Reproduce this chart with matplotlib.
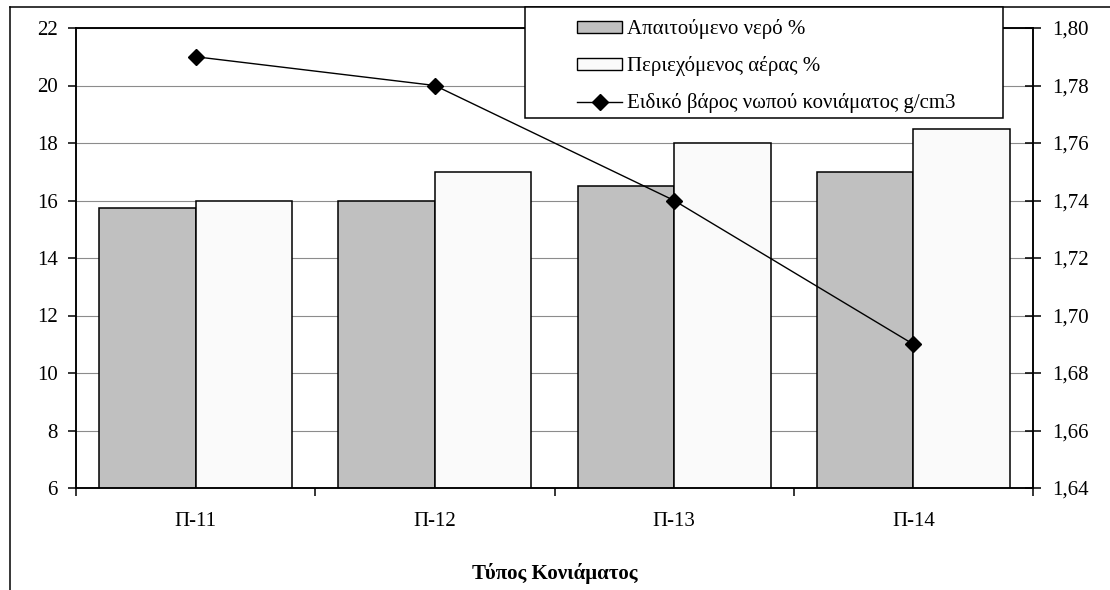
import numpy as np
import matplotlib
matplotlib.use('Agg')
import matplotlib.pyplot as plt
from matplotlib.patches import Rectangle, Patch
from matplotlib.lines import Line2D
from matplotlib.ticker import FixedLocator, FuncFormatter

plt.rcParams['font.family'] = ['Liberation Serif', 'DejaVu Serif']

# Mortar types and measured properties
mortar_types = ['Π-11', 'Π-12', 'Π-13', 'Π-14']
water_needed = [15.75, 16.0, 16.5, 17.0]      # Απαιτούμενο νερό %
air_content = [16.0, 17.0, 18.0, 18.5]       # Περιεχόμενος αέρας %
fresh_density = [1.79, 1.78, 1.74, 1.69]     # g/cm3

label_water = 'Απαιτούμενο νερό %'
label_air = 'Περιεχόμενος αέρας %'
label_density = 'Ειδικό βάρος νωπού κονιάματος g/cm3'

W, H = 1110, 590
fs = 15
fig = plt.figure(figsize=(W / 100, H / 100), dpi=100)
fig.patch.set_facecolor('white')

# plot area in pixels: x 76..1033, y 28..488
ax = fig.add_axes([76 / W, 1 - 488 / H, (1033 - 76) / W, (488 - 28) / H])

x = np.arange(len(mortar_types))
bw = 0.403
ax.bar(x - bw / 2, water_needed, bw, color='#c0c0c0', edgecolor='black', linewidth=1.1, zorder=2)
ax.bar(x + bw / 2, air_content, bw, color='#fafafa', edgecolor='black', linewidth=1.1, zorder=2)

ax.set_xlim(-0.5, len(mortar_types) - 0.5)
ax.set_ylim(6, 22)
ax.set_yticks(np.arange(6, 23, 2))
ax.yaxis.grid(True, color='#8c8c8c', linewidth=0.8)
ax.set_axisbelow(True)

# category separators as major ticks, names on minor ticks
ax.xaxis.set_major_locator(FixedLocator(np.arange(-0.5, len(mortar_types), 1.0)))
ax.xaxis.set_major_formatter(FuncFormatter(lambda v, p: ''))
ax.xaxis.set_minor_locator(FixedLocator(x))
ax.set_xticklabels(mortar_types, minor=True)
ax.tick_params(axis='x', which='major', direction='out', length=6, width=1.1, color='black')
ax.tick_params(axis='x', which='minor', length=0, pad=17, labelsize=fs)
ax.tick_params(axis='y', direction='out', length=6, width=1.1, pad=7, labelsize=fs)

for s in ax.spines.values():
    s.set_color('black')
    s.set_linewidth(1.1)

ax.set_xlabel('Τύπος Κονιάματος', fontsize=fs, fontweight='bold', labelpad=23)

ax2 = ax.twinx()
ax2.plot(x, fresh_density, color='black', linewidth=1.0, marker='D', markersize=8,
         markerfacecolor='black', zorder=3)
ax2.set_ylim(1.64, 1.80)
ax2.set_yticks(np.round(np.arange(1.64, 1.8001, 0.02), 2))
ax2.yaxis.set_major_formatter(FuncFormatter(lambda v, p: f'{v:.2f}'.replace('.', ',')))
ax2.tick_params(axis='y', direction='inout', length=11, width=1.1, pad=8, labelsize=fs)
for s in ax2.spines.values():
    s.set_color('black')
    s.set_linewidth(1.1)

# outer chart frame
fig.add_artist(Line2D([10 / W, 10 / W], [0, 1 - 7 / H], transform=fig.transFigure,
                      color='black', linewidth=1.1))
fig.add_artist(Line2D([10 / W, 1], [1 - 7 / H, 1 - 7 / H], transform=fig.transFigure,
                      color='black', linewidth=1.1))

# legend box
fig.add_artist(Rectangle((525 / W, 1 - 118 / H), (1003 - 525) / W, (118 - 7) / H,
                         transform=fig.transFigure, facecolor='white', edgecolor='black',
                         linewidth=1.1, zorder=10))
handles = [
    Patch(facecolor='#c0c0c0', edgecolor='black', linewidth=1.0),
    Patch(facecolor='#fafafa', edgecolor='black', linewidth=1.0),
    Line2D([], [], color='black', linewidth=1.0, marker='D', markersize=8),
]
leg = fig.legend(handles, [label_water, label_air, label_density],
                 loc='upper left', bbox_to_anchor=(571 / W, 1 - 13 / H),
                 frameon=False, fontsize=fs, handlelength=2.15, handleheight=0.5,
                 handletextpad=0.25, labelspacing=0.82, borderpad=0.3, borderaxespad=0)
leg.set_zorder(11)

plt.savefig('out.png', dpi=100)
